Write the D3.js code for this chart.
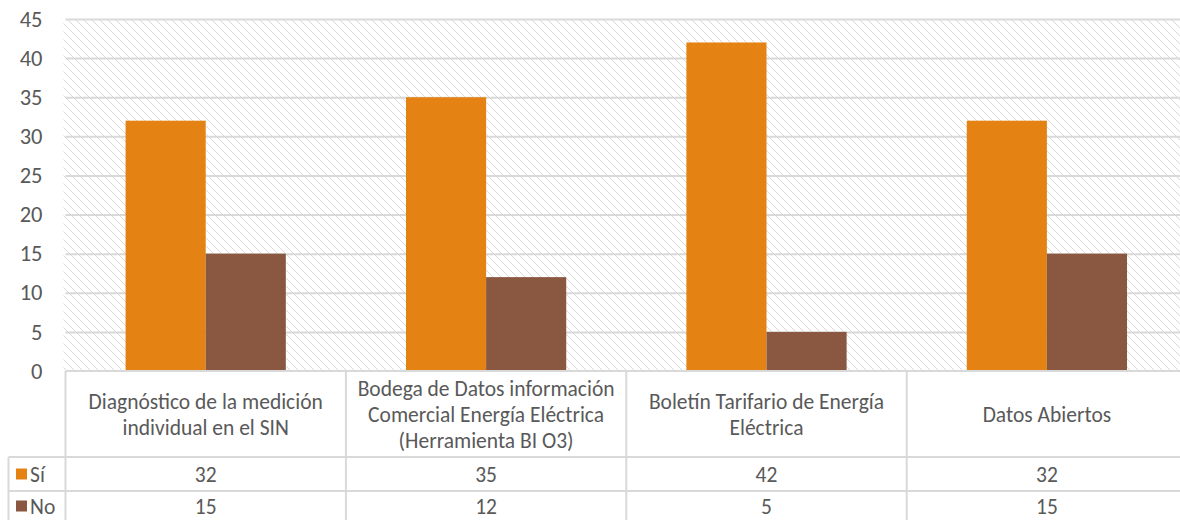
<!DOCTYPE html>
<html>
<head>
<meta charset="utf-8">
<script src="https://cdn.jsdelivr.net/npm/d3@7"></script>
<style>
  html, body { margin: 0; padding: 0; background: #fff; }
  svg { display: block; }
  text { font-family: Carlito, Calibri, Lato, "Noto Sans", sans-serif; fill: #595959; }
</style>
</head>
<body>
<svg id="chart" width="1180" height="520"></svg>
<script>
// ---- data ----
const categories = [
  ["Diagnóstico de la medición", "individual en el SIN"],
  ["Bodega de Datos información", "Comercial Energía Eléctrica", "(Herramienta BI O3)"],
  ["Boletín Tarifario de Energía", "Eléctrica"],
  ["Datos Abiertos"]
];
const seriesNames = ["Sí", "No"];
const siValues = [32, 35, 42, 32];
const noValues = [15, 12, 5, 15];
const yTicks = [0, 5, 10, 15, 20, 25, 30, 35, 40, 45];
const seriesColors = ["#E48314", "#8A5741"];

// ---- layout ----
const W = 1180, H = 520;
const plotLeft = 65.5, plotRight = 65.5 + 4 * 280.4, plotTop = 19, plotBottom = 371;
const headerBottom = 457, row1Bottom = 491;
const legendLeft = 8.5;
const gridColor = "#d9d9d9";
const fs = "21.5px";

const svg = d3.select("#chart");

const idx = categories.map((d, i) => i);
const x0 = d3.scaleBand().domain(idx).range([plotLeft, plotRight]).padding(0);
const x1 = d3.scaleBand().domain(seriesNames).range([0, x0.bandwidth()]).paddingInner(0).paddingOuter(0.75);
const y = d3.scaleLinear().domain([0, 45]).range([plotBottom, plotTop]);

// hatch pattern
const defs = svg.append("defs");
const pat = defs.append("pattern").attr("id", "hatch").attr("patternUnits", "userSpaceOnUse")
  .attr("width", 8).attr("height", 8);
pat.append("rect").attr("width", 8).attr("height", 8).attr("fill", "#fff");
pat.selectAll("rect.px").data(d3.range(8)).join("rect").attr("class", "px")
  .attr("x", d => d).attr("y", d => d).attr("width", 1).attr("height", 1)
  .attr("fill", "#d9d9d9").attr("shape-rendering", "crispEdges");

svg.append("rect").attr("x", plotLeft - 2).attr("y", plotTop).attr("width", W - plotLeft + 2)
  .attr("height", plotBottom - plotTop).attr("fill", "url(#hatch)");

// gridlines
const grid = svg.append("g").attr("transform", `translate(${plotLeft},0)`)
  .call(d3.axisLeft(y).tickValues(yTicks.filter(v => v > 0)).tickSize(-(plotRight - plotLeft)).tickFormat(""));
grid.select(".domain").remove();
grid.selectAll("line").attr("stroke", gridColor).attr("stroke-width", 2);

// y axis labels
const yAxis = svg.append("g").attr("transform", `translate(${plotLeft},0)`)
  .call(d3.axisLeft(y).tickValues(yTicks).tickSize(0).tickPadding(23));
yAxis.select(".domain").remove();
yAxis.selectAll("text").style("font-size", "22.5px").attr("fill", "#595959");

// bars
const seriesData = [siValues, noValues];
const groups = svg.append("g").selectAll("g").data(seriesNames).join("g")
  .attr("fill", (d, i) => seriesColors[i]);
groups.selectAll("rect").data((s, si) => seriesData[si].map((v, ci) => ({ s, v, ci })))
  .join("rect")
  .attr("x", d => x0(d.ci) + x1(d.s))
  .attr("width", x1.bandwidth())
  .attr("y", d => y(d.v))
  .attr("height", d => y(0) - y(d.v));

// data table lines
const tbl = svg.append("g").attr("stroke", gridColor).attr("stroke-width", 2).attr("fill", "none");
tbl.append("line").attr("x1", plotLeft).attr("x2", W).attr("y1", plotBottom).attr("y2", plotBottom);
tbl.append("line").attr("x1", legendLeft).attr("x2", W).attr("y1", headerBottom).attr("y2", headerBottom);
tbl.append("line").attr("x1", legendLeft).attr("x2", W).attr("y1", row1Bottom).attr("y2", row1Bottom);
tbl.append("line").attr("x1", legendLeft).attr("x2", legendLeft).attr("y1", headerBottom).attr("y2", H);
tbl.selectAll("line.v").data(idx.concat([idx.length])).join("line").attr("class", "v")
  .attr("x1", i => i < idx.length ? x0(i) : plotRight).attr("x2", i => i < idx.length ? x0(i) : plotRight)
  .attr("y1", plotBottom).attr("y2", H);

// category header text
const lineH = 26;
const headerMid = (plotBottom + headerBottom) / 2;
const hdr = svg.append("g").selectAll("text").data(categories).join("text")
  .attr("text-anchor", "middle").style("font-size", fs)
  .attr("x", (d, i) => x0(i) + x0.bandwidth() / 2)
  .attr("y", d => headerMid - (d.length - 1) * lineH / 2);
hdr.selectAll("tspan").data(d => d).join("tspan")
  .attr("x", function () { return d3.select(this.parentNode).attr("x"); })
  .attr("dy", (d, i) => i === 0 ? "0.35em" : lineH)
  .text(d => d);

// rows
const rowMids = [474, 506];
seriesNames.forEach((s, si) => {
  const g = svg.append("g");
  g.append("rect").attr("x", 16).attr("y", rowMids[si] - 5.5).attr("width", 11).attr("height", 11)
    .attr("fill", seriesColors[si]);
  g.append("text").attr("x", 30).attr("y", rowMids[si]).attr("dy", "0.35em")
    .style("font-size", fs).text(s);
  g.selectAll("text.val").data(seriesData[si]).join("text").attr("class", "val")
    .attr("text-anchor", "middle").style("font-size", fs)
    .attr("x", (d, i) => x0(i) + x0.bandwidth() / 2)
    .attr("y", rowMids[si]).attr("dy", "0.35em").text(d => d);
});
</script>
</body>
</html>
